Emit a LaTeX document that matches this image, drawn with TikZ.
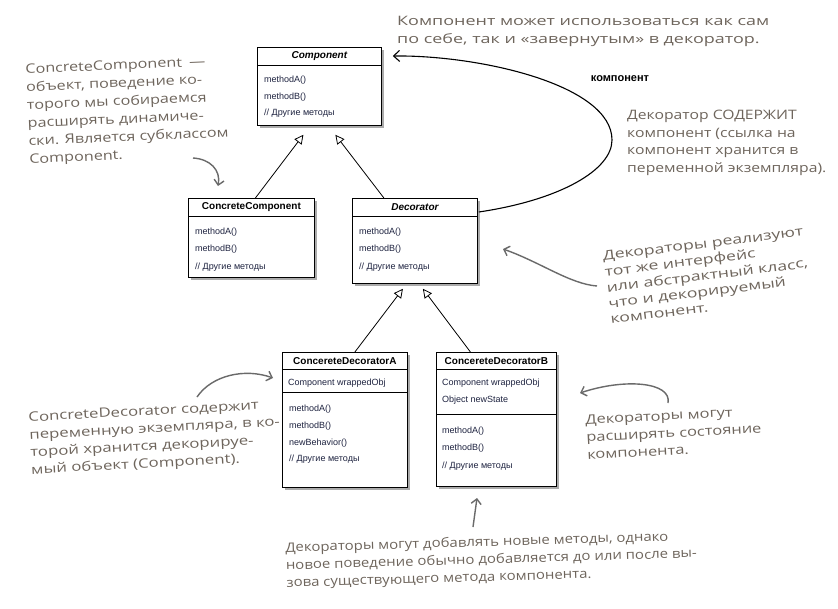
\documentclass[tikz,border=0pt]{standalone}
\usepackage{fontspec}
\setmainfont{Liberation Sans}
\newfontfamily\hand[FakeStretch=1.15]{Open Sans}
\usetikzlibrary{arrows.meta,shadows,calc}
\definecolor{handc}{HTML}{6E655C}
\definecolor{arrc}{HTML}{6A6A6A}
\definecolor{umltxt}{HTML}{1E2340}
\begin{document}
\begin{tikzpicture}[x=1pt,y=-1pt,
 umlbox/.style={draw=black, line width=0.8pt, fill=white,
   drop shadow={shadow xshift=3pt, shadow yshift=-3pt, fill=black!60, opacity=0.55},
   anchor=north west, inner sep=0pt},
 title/.style={font=\fontsize{10}{12}\selectfont\bfseries, anchor=center, inner sep=0pt},
 ititle/.style={font=\fontsize{10}{12}\selectfont\bfseries\itshape, anchor=center, inner sep=0pt},
 mem/.style={font=\fontsize{9}{11}\selectfont, text=umltxt, anchor=west, inner sep=0pt},
 sep/.style={line width=0.8pt},
 inherit/.style={line width=0.8pt, -{Triangle[open, length=9pt, width=9pt, fill=white]}},
 hasa/.style={line width=1.1pt, -{Straight Barb[length=6pt, width=11pt]}},
 note/.style={font=\hand\fontsize{13}{18.5}\selectfont, text=handc, align=left, anchor=north west, inner sep=0pt, transform shape},
 pointer/.style={draw=arrc, line width=1.4pt, -{Straight Barb[length=5pt, width=10pt]}},
]
\useasboundingbox (0,0) rectangle (838,608);
\fill[white] (0,0) rectangle (838,608);

% ---------- Component
\node[umlbox, minimum width=124pt, minimum height=78pt] (comp) at (257,47) {};
\draw[sep] ($(comp.north west)+(0,18)$) -- ($(comp.north east)+(0,18)$);
\node[ititle] (compT) at ($(comp.north)+(0,9)$) {Component};
\node[mem] (compM1) at ($(comp.north west)+(7,33)$) {methodA()};
\node[mem] (compM2) at ($(comp.north west)+(7,50)$) {methodB()};
\node[mem] (compM3) at ($(comp.north west)+(7,66)$) {// Другие методы};

% ---------- ConcreteComponent
\node[umlbox, minimum width=126pt, minimum height=79pt] (cc) at (188,198) {};
\draw[sep] ($(cc.north west)+(0,18)$) -- ($(cc.north east)+(0,18)$);
\node[title] (ccT) at ($(cc.north)+(0,9)$) {ConcreteComponent};
\node[mem] (ccM1) at ($(cc.north west)+(7,34)$) {methodA()};
\node[mem] (ccM2) at ($(cc.north west)+(7,51)$) {methodB()};
\node[mem] (ccM3) at ($(cc.north west)+(7,69)$) {// Другие методы};

% ---------- Decorator
\node[umlbox, minimum width=125pt, minimum height=85pt] (dec) at (352,198) {};
\draw[sep] ($(dec.north west)+(0,18)$) -- ($(dec.north east)+(0,18)$);
\node[ititle] (decT) at ($(dec.north)+(0,9)$) {Decorator};
\node[mem] (decM1) at ($(dec.north west)+(7,34)$) {methodA()};
\node[mem] (decM2) at ($(dec.north west)+(7,51)$) {methodB()};
\node[mem] (decM3) at ($(dec.north west)+(7,69)$) {// Другие методы};

% ---------- ConcereteDecoratorA
\node[umlbox, minimum width=125pt, minimum height=135pt] (cda) at (282,352) {};
\draw[sep] ($(cda.north west)+(0,17)$) -- ($(cda.north east)+(0,17)$);
\draw[sep] ($(cda.north west)+(0,40)$) -- ($(cda.north east)+(0,40)$);
\node[title] (cdaT) at ($(cda.north)+(0,9)$) {ConcereteDecoratorA};
\node[mem] (cdaA1) at ($(cda.north west)+(6,31)$) {Component wrappedObj};
\node[mem] (cdaM1) at ($(cda.north west)+(7,57)$) {methodA()};
\node[mem] (cdaM2) at ($(cda.north west)+(7,74)$) {methodB()};
\node[mem] (cdaM3) at ($(cda.north west)+(7,91)$) {newBehavior()};
\node[mem] (cdaM4) at ($(cda.north west)+(7,107)$) {// Другие методы};

% ---------- ConcereteDecoratorB
\node[umlbox, minimum width=120pt, minimum height=134pt] (cdb) at (436,352) {};
\draw[sep] ($(cdb.north west)+(0,17)$) -- ($(cdb.north east)+(0,17)$);
\draw[sep] ($(cdb.north west)+(0,62)$) -- ($(cdb.north east)+(0,62)$);
\node[title] (cdbT) at ($(cdb.north)+(0,9)$) {ConcereteDecoratorB};
\node[mem] (cdbA1) at ($(cdb.north west)+(6,31)$) {Component wrappedObj};
\node[mem] (cdbA2) at ($(cdb.north west)+(6,48)$) {Object newState};
\node[mem] (cdbM1) at ($(cdb.north west)+(6,79)$) {methodA()};
\node[mem] (cdbM2) at ($(cdb.north west)+(6,96)$) {methodB()};
\node[mem] (cdbM3) at ($(cdb.north west)+(6,114)$) {// Другие методы};

% ---------- inheritance
\draw[inherit] ($(cc.north)+(4,0)$) -- ($(comp.south)+(-16,9)$);
\draw[inherit] ($(dec.north)+(-31,0)$) -- ($(comp.south)+(16,9)$);
\draw[inherit] ($(cda.north)+(10,0)$) -- ($(dec.south)+(-12,5)$);
\draw[inherit] ($(cdb.north)+(-26,0)$) -- ($(dec.south)+(8,5)$);

% ---------- aggregation
\coordinate (aggS) at ($(dec.north east)+(1,14)$);
\coordinate (aggE) at ($(comp.north east)+(11,9)$);
\draw[hasa] (aggS) .. controls (560,200) and (612,170) .. (612,140)
               .. controls (612,85) and (480,55) .. (aggE);
\node[font=\fontsize{11}{13}\selectfont\bfseries, inner sep=0pt] (lbl) at (620,79) {компонент};

% ---------- notes
\node[note, xscale=1.2] (n1) at (397,16) {Компонент может использоваться как сам\\по себе, так и «завернутым» в декоратор.};
\node[note, rotate=2.5, xscale=1.08, font=\hand\fontsize{13}{18}\selectfont] (n2) at (25,64) {ConcreteComponent\enspace —\\объект, поведение ко-\\торого мы собираемся\\расширять динамиче-\\ски. Является субклассом\\Component.};
\node[note, xscale=1.05, font=\hand\fontsize{13}{17.5}\selectfont] (n3) at (627,110) {Декоратор СОДЕРЖИТ\\компонент (ссылка на\\компонент хранится в\\переменной экземпляра).};
\node[note, rotate=7, xscale=1.18, font=\hand\fontsize{13}{16}\selectfont] (n4) at (602,251) {Декораторы реализуют\\тот же интерфейс\\или абстрактный класс,\\что и декорируемый\\компонент.};
\node[note, rotate=3, xscale=1.12, font=\hand\fontsize{13}{17.5}\selectfont] (n5) at (28,412) {ConcreteDecorator содержит\\переменную экземпляра, в ко-\\торой хранится декорируе-\\мый объект (Component).};
\node[note, rotate=3, xscale=1.1, font=\hand\fontsize{13}{17.5}\selectfont] (n6) at (585,415) {Декораторы могут\\расширять состояние\\компонента.};
\node[note, rotate=1.7, font=\hand\fontsize{13}{17.5}\selectfont] (n7) at (285,542) {Декораторы могут добавлять новые методы, однако\\новое поведение обычно добавляется до или после вы-\\зова существующего метода компонента.};

% ---------- pointers
\coordinate (p1s) at (193,158);
\coordinate (p1e) at (218,186);
\draw[pointer] (p1s) .. controls (210,159) and (221,170) .. (p1e);
\coordinate (p2s) at (597,286);
\coordinate (p2e) at (503,249);
\draw[pointer] (p2s) .. controls (570,284) and (540,262) .. (p2e);
\coordinate (p3s) at (197,397);
\coordinate (p3e) at (273,378);
\draw[pointer] (p3s) .. controls (212,375) and (245,368) .. (p3e);
\coordinate (p4s) at (668,403);
\coordinate (p4e) at (580,393);
\draw[pointer] (p4s) .. controls (672,382) and (625,378) .. (p4e);
\coordinate (p5s) at (473,527);
\coordinate (p5e) at (477,498);
\draw[pointer] (p5s) -- (p5e);
\end{tikzpicture}
\end{document}
